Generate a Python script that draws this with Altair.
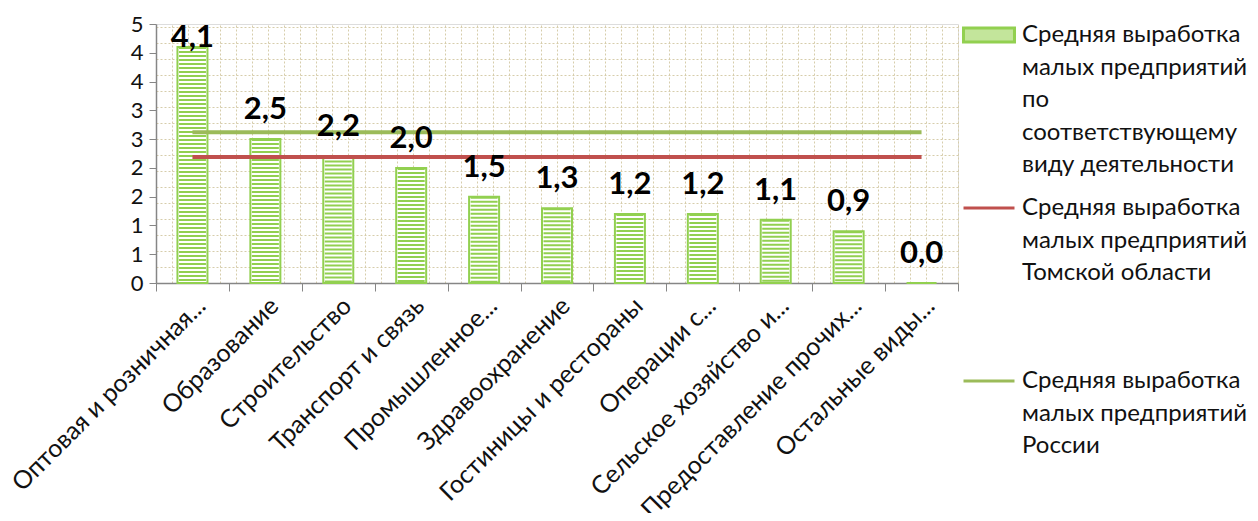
import altair as alt
import pandas as pd

categories = [
    "Оптовая и розничная...", "Образование", "Строительство", "Транспорт и связь",
    "Промышленное...", "Здравоохранение", "Гостиницы и рестораны", "Операции с...",
    "Сельское хозяйство и...", "Предоставление прочих...", "Остальные виды...",
]
values = [4.1, 2.5, 2.2, 2.0, 1.5, 1.3, 1.2, 1.2, 1.1, 0.9, 0.0]
tomsk = [2.19, 2.19, 2.19, 2.19, 2.19, 2.19, 2.19, 2.19, 2.19, 2.19, 2.19]
russia = [2.62, 2.62, 2.62, 2.62, 2.62, 2.62, 2.62, 2.62, 2.62, 2.62, 2.62]
series_names = [
    "\u00a0Средняя выработка|малых предприятий|по|соответствующему|виду деятельности",
    "\u00a0Средняя выработка|малых предприятий|Томской области",
    "\u00a0Средняя выработка|малых предприятий|России",
]
y_ticks = [0, 0.5, 1, 1.5, 2, 2.5, 3, 3.5, 4, 4.5]

FONT = "Lato"
GREEN_BAR = "#92d050"
RED = "#c0504d"
GREEN_LINE = "#9bbb59"

df = pd.DataFrame({
    "category": categories,
    "value": values,
    "label": [f"{v:.1f}".replace(".", ",") for v in values],
})
tomsk_df = pd.DataFrame({"category": categories, "value": tomsk})
russia_df = pd.DataFrame({"category": categories, "value": russia})
legend_df = pd.DataFrame({"series": series_names})
bg_df = pd.DataFrame({"gx": [0, 50], "gy": [0, 16.2]})

x_enc = alt.X(
    "category:N", sort=categories,
    scale=alt.Scale(paddingInner=0, paddingOuter=0),
    axis=alt.Axis(
        orient="bottom", title=None, labelAngle=-45, labelAlign="right",
        labelBaseline="top", labelFont=FONT, labelFontSize=25, labelColor="#111111",
        labelLimit=600, labelPadding=2, tickBand="extent", tickSize=8,
        tickColor="#868686", domainColor="#868686", domainWidth=1.5, grid=False,
        labelOverlap=False,
    ),
)
y_axis = alt.Axis(
    orient="left", title=None, values=y_ticks, format=".0f", grid=False,
    labelFont=FONT, labelFontSize=22, labelColor="#111111", labelPadding=6,
    labelOverlap=False, labelFlush=False, tickCount=10,
    tickSize=7, tickColor="#868686", domainColor="#868686", domainWidth=1.5,
)
y_scale = alt.Scale(domain=[0, 4.5], nice=False, zero=True)


def y_of(field):
    return alt.Y(field, scale=y_scale, axis=y_axis)


base = alt.Chart(df)
bars = base.mark_bar(size=30, fill="white", stroke=GREEN_BAR, strokeWidth=2).encode(
    x=x_enc, y=y_of("value:Q")
)
stripes = base.mark_rule(strokeWidth=27, strokeDash=[2, 2], color=GREEN_BAR).encode(
    x=x_enc, y=y_of("value:Q"), y2=alt.datum(0)
)
line_t = alt.Chart(tomsk_df).mark_line(color=RED, strokeWidth=4).encode(x=x_enc, y=y_of("value:Q"))
line_r = alt.Chart(russia_df).mark_line(color=GREEN_LINE, strokeWidth=4).encode(x=x_enc, y=y_of("value:Q"))
labels = base.mark_text(
    font=FONT, fontSize=31, fontWeight="bold", color="black", baseline="alphabetic", dy=-20
).transform_calculate(
    value="min(datum.value, 3.75)"
).encode(x=x_enc, y=y_of("value:Q"), text="label:N")

leg = alt.Legend(
    title=None, orient="none", legendX=806, legendY=-16, padding=0,
    symbolSize=2600, symbolStrokeWidth=3, symbolOpacity=1,
    labelFont=FONT, labelFontSize=24, labelColor="#111111", labelLimit=600,
    labelExpr="split(datum.label, '|')", labelBaseline="middle", labelOffset=6,
    gridAlign="all", rowPadding=4,
)
RECT = "M-1,-0.27L1,-0.27L1,0.27L-1,0.27Z"
LINE = "M-1,0L1,0"
legend_layer = alt.Chart(legend_df).mark_point(opacity=0, filled=True).encode(
    fill=alt.Fill("series:N", scale=alt.Scale(domain=series_names, range=["#c3e59b", RED, GREEN_LINE]), legend=leg),
    stroke=alt.Stroke("series:N", scale=alt.Scale(domain=series_names, range=[GREEN_BAR, RED, GREEN_LINE]), legend=leg),
    shape=alt.Shape("series:N", scale=alt.Scale(domain=series_names, range=[RECT, LINE, LINE]), legend=leg),
)

main = alt.layer(bars, stripes, line_t, line_r, labels, legend_layer)

bg = alt.Chart(bg_df).mark_point(opacity=0).encode(
    x=alt.X("gx:Q", scale=alt.Scale(domain=[0, 50], nice=False, zero=False),
            axis=alt.Axis(orient="top", title=None, labels=False, ticks=False, domain=False,
                          grid=True, values=list(range(0, 51)), gridColor="#d6cdab",
                          gridDash=[2, 2], gridWidth=1)),
    y=alt.Y("gy:Q", scale=alt.Scale(domain=[0, 16.2], nice=False, zero=False),
            axis=alt.Axis(orient="right", title=None, labels=False, ticks=False, domain=False,
                          grid=True, values=list(range(0, 17)), gridColor="#d6cdab",
                          gridDash=[2, 2], gridWidth=1)),
)

chart = alt.layer(bg, main).resolve_scale(x="independent", y="independent").properties(
    width=802, height=259,
    autosize=alt.AutoSizeParams(type="none"),
    padding={"left": 148, "top": 16, "right": 292, "bottom": 230},
).configure_view(stroke=None, fill="#f2f2f2").configure(
    style={"guide-label": {"lineHeight": 32.5}}
)

chart.save("out.html", embed_options={"renderer": "svg", "actions": False})
